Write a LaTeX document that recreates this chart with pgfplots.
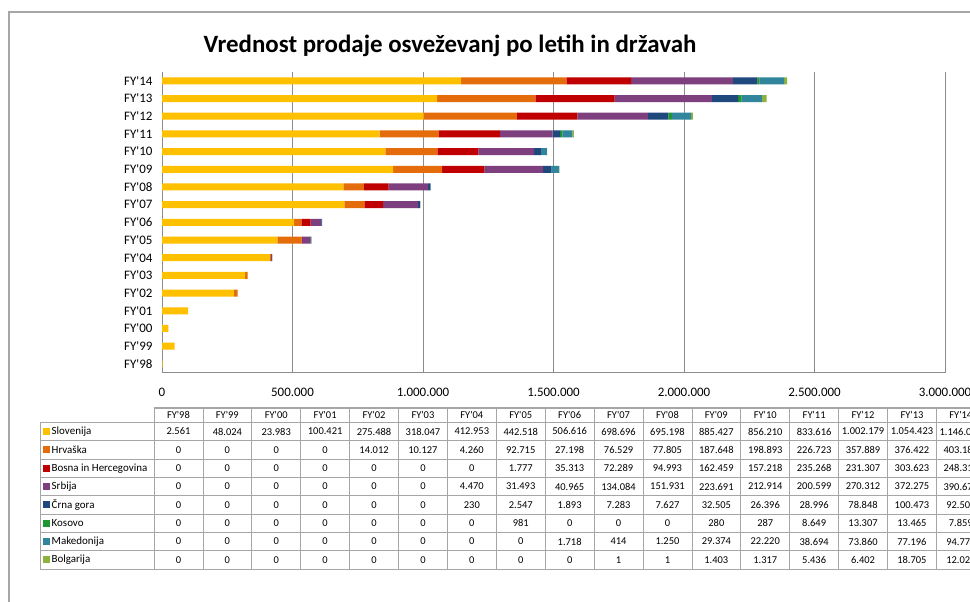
\documentclass[border=0pt]{standalone}
\usepackage{pgfplots}
\pgfplotsset{compat=1.18}
\usepackage{pgfplotstable}
\usepackage{fontspec}
\setmainfont{Carlito}[Ligatures=TeXOff]
\definecolor{cSlo}{HTML}{FFC000}
\definecolor{cHrv}{HTML}{E46C0A}
\definecolor{cBiH}{HTML}{C00000}
\definecolor{cSrb}{HTML}{7E3F7E}
\definecolor{cCG}{HTML}{1F497D}
\definecolor{cKos}{HTML}{1E9632}
\definecolor{cMak}{HTML}{31859C}
\definecolor{cBol}{HTML}{8DB33E}
\definecolor{frame}{HTML}{A6A6A6}
\definecolor{gridc}{HTML}{8C8C8C}
\pgfplotstableread{
FY Slo Hrv BiH Srb CG Kos Mak Bol
FY'98 2561 0 0 0 0 0 0 0
FY'99 48024 0 0 0 0 0 0 0
FY'00 23983 0 0 0 0 0 0 0
FY'01 100421 0 0 0 0 0 0 0
FY'02 275488 14012 0 0 0 0 0 0
FY'03 318047 10127 0 0 0 0 0 0
FY'04 412953 4260 0 4470 230 0 0 0
FY'05 442518 92715 1777 31493 2547 981 0 0
FY'06 506616 27198 35313 40965 1893 0 1718 0
FY'07 698696 76529 72289 134084 7283 0 414 1
FY'08 695198 77805 94993 151931 7627 0 1250 1
FY'09 885427 187648 162459 223691 32505 280 29374 1403
FY'10 856210 198893 157218 212914 26396 287 22220 1317
FY'11 833616 226723 235268 200599 28996 8649 38694 5436
FY'12 1002179 357889 231307 270312 78848 13307 73860 6402
FY'13 1054423 376422 303623 372275 100473 13465 77196 18705
FY'14 1146080 403180 248310 390670 92500 7859 94778 12025
}\data
\begin{document}
\begin{tikzpicture}
\useasboundingbox (0bp,0bp) rectangle (970bp,602bp);
\clip (0bp,0bp) rectangle (970bp,602bp);
\fill[white] (0bp,0bp) rectangle (970bp,602bp);
\draw[frame, line width=1.2bp] (9bp,-10bp) -- (9bp,590bp) -- (990bp,590bp);
\node[font=\fontsize{25}{28}\selectfont\bfseries] at (450bp,556bp) {Vrednost prodaje osveževanj po letih in državah};
\begin{axis}[
  at={(162bp,229.3bp)}, anchor=south west,
  width=783bp, height=300.7bp, scale only axis,
  xbar stacked, bar width=7bp,
  xmin=0, xmax=3000000, ymin=-0.5, ymax=16.5,
  xtick={0,500000,...,3000000},
  ytick={0,...,16},
  yticklabels from table={\data}{FY},
  axis x line*=bottom, axis y line*=left,
  axis line style={gridc, line width=0.9bp},
  major tick length=0pt,
  xmajorgrids, grid style={gridc, line width=0.8bp},
  scaled x ticks=false,
  /pgf/number format/assume math mode=true,
  xticklabel={\pgfmathprintnumber[fixed,precision=0,1000 sep={.}]{\tick}},
  tick label style={font=\fontsize{13}{15}\selectfont, black},
  xticklabel style={yshift=-12bp},
  yticklabel style={xshift=-6bp},
  every axis plot/.append style={draw=none},
  clip=false,
]
\addplot[fill=cSlo] table[x=Slo, y expr=\coordindex] {\data};
\addplot[fill=cHrv] table[x=Hrv, y expr=\coordindex] {\data};
\addplot[fill=cBiH] table[x=BiH, y expr=\coordindex] {\data};
\addplot[fill=cSrb] table[x=Srb, y expr=\coordindex] {\data};
\addplot[fill=cCG] table[x=CG, y expr=\coordindex] {\data};
\addplot[fill=cKos] table[x=Kos, y expr=\coordindex] {\data};
\addplot[fill=cMak] table[x=Mak, y expr=\coordindex] {\data};
\addplot[fill=cBol] table[x=Bol, y expr=\coordindex] {\data};
\end{axis}
\begin{scope}[x=1bp,y=1bp]
\def\tx{154}\def\cw{48.9}
\def\ytop{193.7}\def\yh{179.7}\def\rh{18.35}
\draw[frame, line width=1.6bp] (\tx,\ytop) -- (1000,\ytop);
\foreach \k in {0,...,17} {
  \draw[frame, line width=0.8bp] ({\tx+\cw*\k},\ytop) -- ({\tx+\cw*\k},{\yh-8*\rh});
}
\draw[frame, line width=0.8bp] (40,\yh) -- (40,{\yh-8*\rh});
\foreach \j in {0,...,8} {
  \draw[frame, line width=0.8bp] (40,{\yh-\rh*\j}) -- (1000,{\yh-\rh*\j});
}
\foreach \r in {0,...,16} {
  \pgfplotstablegetelem{\r}{FY}\of\data
  \node[font=\fontsize{10.5}{12}\selectfont] at ({\tx+\cw*(\r+0.5)},186.7) {\pgfplotsretval};
}
\foreach \c/\n/\col [count=\i from 0] in {Slo/Slovenija/cSlo,Hrv/Hrvaška/cHrv,BiH/Bosna in Hercegovina/cBiH,Srb/Srbija/cSrb,CG/Črna gora/cCG,Kos/Kosovo/cKos,Mak/Makedonija/cMak,Bol/Bolgarija/cBol} {
  \fill[\col] (43,{\yh-\rh*(\i+0.5)-3.5}) rectangle (50,{\yh-\rh*(\i+0.5)+3.5});
  \node[font=\fontsize{11}{12}\selectfont, anchor=west, inner sep=0pt] at (51.5,{\yh-\rh*(\i+0.5)}) {\n};
  \foreach \r in {0,...,16} {
    \pgfplotstablegetelem{\r}{\c}\of\data
    \node[font=\fontsize{10.5}{12}\selectfont] at ({\tx+\cw*(\r+0.5)},{\yh-\rh*(\i+0.5)}) {\pgfmathprintnumber[fixed,precision=0,1000 sep={.},assume math mode=true]{\pgfplotsretval}};
  }
}
\end{scope}
\end{tikzpicture}
\end{document}
